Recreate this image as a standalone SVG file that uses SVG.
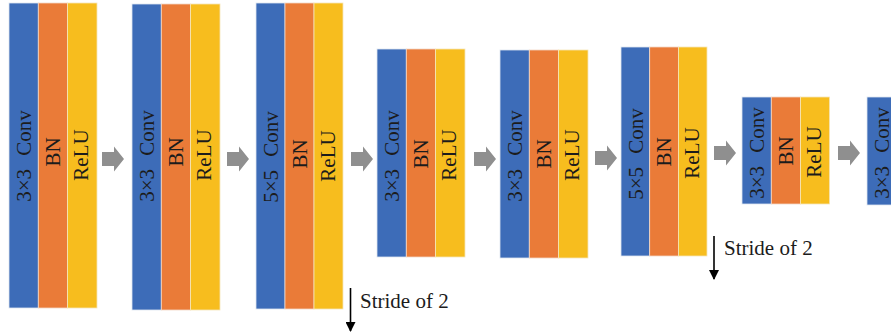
<svg xmlns="http://www.w3.org/2000/svg" width="891" height="333" viewBox="0 0 891 333">
  <defs>
    <style>
      .conv { fill: #3d6cb8; stroke: #dfe6f0; stroke-width: 0.8; }
      .bn { fill: #ea7b38; stroke: #f3d8c6; stroke-width: 0.8; }
      .relu { fill: #f7bd1e; stroke: #f6e6b8; stroke-width: 0.8; }
      .lbl { font-family: "Liberation Serif", "Times New Roman", serif; font-size: 21px; fill: #1c1c1c; text-anchor: middle; }
      .conv-lbl { word-spacing: 8px; }
      .flow { fill: #8f8f8f; }
      .stride { stroke: #000; stroke-width: 1.6; fill: none; marker-end: url(#ah); }
      .stxt { font-family: "Liberation Serif", "Times New Roman", serif; font-size: 21px; fill: #1c1c1c; }
    </style>
    <marker id="ah" viewBox="0 0 10 10" refX="9" refY="5" markerUnits="userSpaceOnUse" markerWidth="11" markerHeight="10" orient="auto">
      <path d="M0,0 L10,5 L0,10 Z" fill="#000"/>
    </marker>
  </defs>

  <g id="block1">
    <rect class="conv" x="9" y="3" width="29.3" height="305"/>
    <rect class="bn" x="38.3" y="3" width="29.3" height="305"/>
    <rect class="relu" x="67.6" y="3" width="29.4" height="305"/>
    <text class="lbl conv-lbl" transform="translate(31,156) rotate(-90)">3×3 Conv</text>
    <text class="lbl" transform="translate(60,152) rotate(-90)">BN</text>
    <text class="lbl" transform="translate(88,155) rotate(-90)">ReLU</text>
  </g>

  <g id="block2">
    <rect class="conv" x="132" y="4" width="29.3" height="306"/>
    <rect class="bn" x="161.3" y="4" width="29.3" height="306"/>
    <rect class="relu" x="190.6" y="4" width="29.4" height="306"/>
    <text class="lbl conv-lbl" transform="translate(154,156) rotate(-90)">3×3 Conv</text>
    <text class="lbl" transform="translate(183,152) rotate(-90)">BN</text>
    <text class="lbl" transform="translate(211,155) rotate(-90)">ReLU</text>
  </g>

  <g id="block3">
    <rect class="conv" x="256" y="3" width="29" height="306"/>
    <rect class="bn" x="285" y="3" width="29" height="306"/>
    <rect class="relu" x="314" y="3" width="29" height="306"/>
    <text class="lbl conv-lbl" transform="translate(277.5,157) rotate(-90)">5×5 Conv</text>
    <text class="lbl" transform="translate(306.5,154) rotate(-90)">BN</text>
    <text class="lbl" transform="translate(334.5,156) rotate(-90)">ReLU</text>
  </g>

  <g id="block4">
    <rect class="conv" x="377" y="49" width="29.3" height="208"/>
    <rect class="bn" x="406.3" y="49" width="29.3" height="208"/>
    <rect class="relu" x="435.6" y="49" width="29.4" height="208"/>
    <text class="lbl conv-lbl" transform="translate(399,156) rotate(-90)">3×3 Conv</text>
    <text class="lbl" transform="translate(428,154) rotate(-90)">BN</text>
    <text class="lbl" transform="translate(456,155) rotate(-90)">ReLU</text>
  </g>

  <g id="block5">
    <rect class="conv" x="500" y="50" width="29.3" height="208"/>
    <rect class="bn" x="529.3" y="50" width="29.3" height="208"/>
    <rect class="relu" x="558.6" y="50" width="29.4" height="208"/>
    <text class="lbl conv-lbl" transform="translate(522,156) rotate(-90)">3×3 Conv</text>
    <text class="lbl" transform="translate(551,154) rotate(-90)">BN</text>
    <text class="lbl" transform="translate(579,155) rotate(-90)">ReLU</text>
  </g>

  <g id="block6">
    <rect class="conv" x="621" y="47" width="28.7" height="209"/>
    <rect class="bn" x="649.7" y="47" width="28.7" height="209"/>
    <rect class="relu" x="678.4" y="47" width="28.6" height="209"/>
    <text class="lbl conv-lbl" transform="translate(642.5,154) rotate(-90)">5×5 Conv</text>
    <text class="lbl" transform="translate(671,152) rotate(-90)">BN</text>
    <text class="lbl" transform="translate(699,153) rotate(-90)">ReLU</text>
  </g>

  <g id="block7">
    <rect class="conv" x="742" y="97" width="29.3" height="107"/>
    <rect class="bn" x="771.3" y="97" width="29.3" height="107"/>
    <rect class="relu" x="800.6" y="97" width="29" height="107"/>
    <text class="lbl conv-lbl" transform="translate(764,153) rotate(-90)">3×3 Conv</text>
    <text class="lbl" transform="translate(793,151) rotate(-90)">BN</text>
    <text class="lbl" transform="translate(821,152) rotate(-90)">ReLU</text>
  </g>

  <g id="block8">
    <rect class="conv" x="867" y="97" width="29.3" height="108"/>
    <rect class="bn" x="896.3" y="97" width="29.3" height="108"/>
    <rect class="relu" x="925.6" y="97" width="29.4" height="108"/>
    <text class="lbl conv-lbl" transform="translate(889,153) rotate(-90)">3×3 Conv</text>
  </g>

  <g id="connectors">
    <polygon class="flow" points="102,152 114,152 114,146.5 124,159 114,171.5 114,166 102,166"/>
    <polygon class="flow" points="227,152 239,152 239,146.5 249,159 239,171.5 239,166 227,166"/>
    <polygon class="flow" points="351,152 363,152 363,146.5 373,159 363,171.5 363,166 351,166"/>
    <polygon class="flow" points="474,152 486,152 486,146.5 496,159 486,171.5 486,166 474,166"/>
    <polygon class="flow" points="595,151 607,151 607,145.5 617,158 607,170.5 607,165 595,165"/>
    <polygon class="flow" points="714,146 726,146 726,140.5 736,153 726,165.5 726,160 714,160"/>
    <polygon class="flow" points="838,146 850,146 850,140.5 860,153 850,165.5 850,160 838,160"/>
    <line class="stride" x1="350.5" y1="288" x2="350.5" y2="331"/>
    <line class="stride" x1="714" y1="236" x2="714" y2="279"/>
  </g>

  <g id="stride-labels">
    <text class="stxt" x="360" y="308">Stride of 2</text>
    <text class="stxt" x="724" y="255">Stride of 2</text>
  </g>
</svg>
